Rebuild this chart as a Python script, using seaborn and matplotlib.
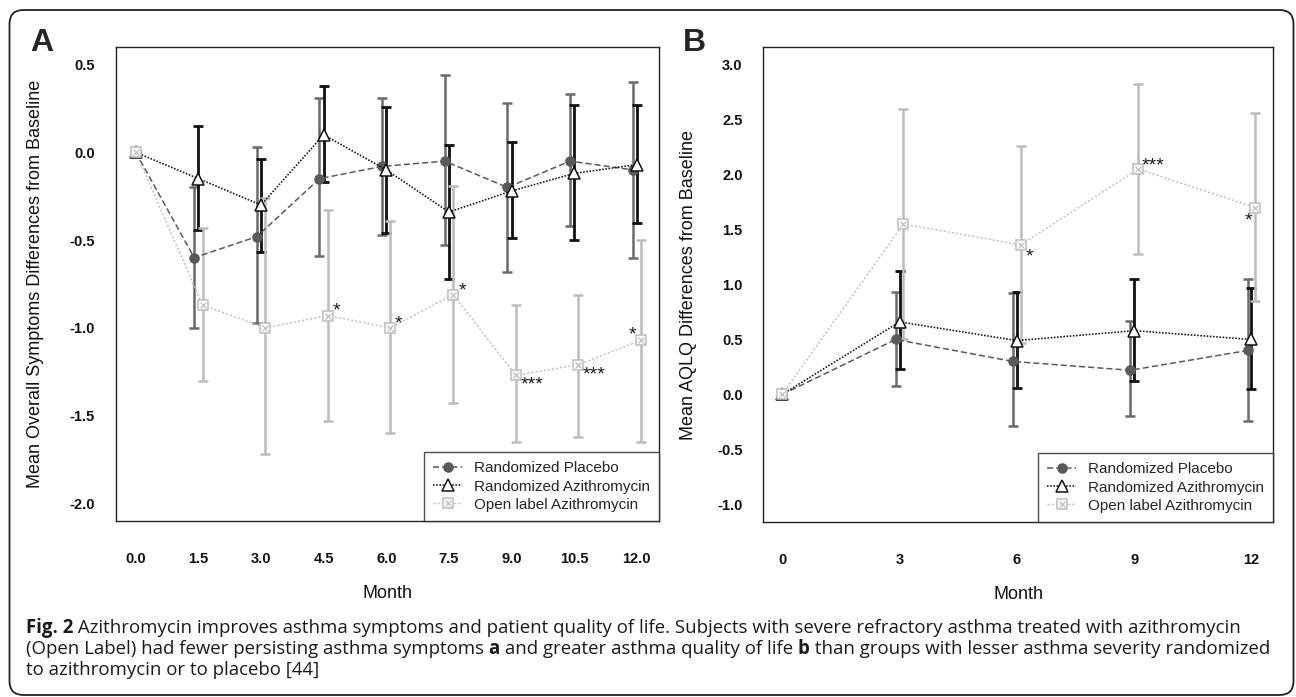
import numpy as np
import pandas as pd
import matplotlib
matplotlib.use("Agg")
import matplotlib.pyplot as plt
import seaborn as sns
from matplotlib.patches import FancyBboxPatch
from matplotlib.transforms import IdentityTransform
from matplotlib.font_manager import FontProperties

# ---------------- data ----------------
series_names = ["Randomized Placebo", "Randomized Azithromycin", "Open label Azithromycin"]

# Panel A: overall symptoms
months_a = [0, 1.5, 3.0, 4.5, 6.0, 7.5, 9.0, 10.5, 12.0]
plac_a = [0, -0.60, -0.48, -0.15, -0.08, -0.05, -0.20, -0.05, -0.10]
plac_a_hi = [0, -0.20, 0.03, 0.31, 0.31, 0.44, 0.28, 0.33, 0.40]
plac_a_lo = [0, -1.00, -0.97, -0.59, -0.47, -0.53, -0.68, -0.42, -0.60]
azi_a = [0, -0.15, -0.30, 0.10, -0.10, -0.34, -0.22, -0.12, -0.07]
azi_a_hi = [0, 0.15, -0.04, 0.38, 0.26, 0.04, 0.06, 0.27, 0.27]
azi_a_lo = [0, -0.44, -0.57, -0.17, -0.46, -0.72, -0.49, -0.50, -0.40]
open_a = [0, -0.87, -1.00, -0.93, -1.00, -0.81, -1.27, -1.21, -1.07]
open_a_hi = [0, -0.43, -0.26, -0.33, -0.39, -0.19, -0.87, -0.81, -0.50]
open_a_lo = [0, -1.30, -1.72, -1.53, -1.60, -1.43, -1.65, -1.62, -1.65]
stars_a = ["", "", "", "*", "*", "*", "***", "***", "*"]
xticks_a = [0.0, 1.5, 3.0, 4.5, 6.0, 7.5, 9.0, 10.5, 12.0]
yticks_a = [-2.0, -1.5, -1.0, -0.5, 0.0, 0.5]

# Panel B: AQLQ
months_b = [0, 3, 6, 9, 12]
plac_b = [0, 0.50, 0.30, 0.22, 0.40]
plac_b_hi = [0, 0.93, 0.92, 0.67, 1.05]
plac_b_lo = [0, 0.08, -0.29, -0.20, -0.24]
azi_b = [0, 0.66, 0.49, 0.58, 0.50]
azi_b_hi = [0, 1.12, 0.93, 1.05, 0.97]
azi_b_lo = [0, 0.23, 0.06, 0.12, 0.05]
open_b = [0, 1.55, 1.36, 2.05, 1.70]
open_b_hi = [0, 2.60, 2.26, 2.82, 2.56]
open_b_lo = [0, 0.50, 0.47, 1.28, 0.85]
stars_b = ["", "", "*", "***", "*"]
xticks_b = [0, 3, 6, 9, 12]
yticks_b = [-1.0, -0.5, 0.0, 0.5, 1.0, 1.5, 2.0, 2.5, 3.0]

caption_lines = [
    [("Fig. 2", "bold"), (" Azithromycin improves asthma symptoms and patient quality of life. Subjects with severe refractory asthma treated with azithromycin", "normal")],
    [("(Open Label) had fewer persisting asthma symptoms ", "normal"), ("a", "bold"), (" and greater asthma quality of life ", "normal"), ("b", "bold"), (" than groups with lesser asthma severity randomized", "normal")],
    [("to azithromycin or to placebo [44]", "normal")],
]

# ---------------- style ----------------
sns.set_theme(style="white")
plt.rcParams["font.family"] = ["Liberation Sans", "DejaVu Sans"]
plt.rcParams["axes.unicode_minus"] = False

W, H = 1296, 697
fig = plt.figure(figsize=(W / 100, H / 100), dpi=100)

C_PLAC = "#5a5a5a"
C_AZI = "#111111"
C_OPEN = "#bdbdbd"
DODGE = 0.1

def draw_panel(ax, months, groups, stars, star_offsets, xticks, yticks, xlim, ylim, ylabel, xfmt):
    months = np.asarray(months, dtype=float)
    styles = [
        dict(color=C_PLAC, ls=(0, (4, 2)), lw=1.1, marker="o", ms=6.5, mfc=C_PLAC, mec=C_PLAC,
             ecolor="#6a6a6a", elw=1.8, dodge=-DODGE),
        dict(color=C_AZI, ls=(0, (1, 1)), lw=1.15, marker="^", ms=8, mfc="white", mec=C_AZI,
             ecolor="#111111", elw=2.0, dodge=0.0),
        dict(color=C_OPEN, ls=(0, (1.5, 1.5)), lw=1.0, marker="s", ms=7, mfc="white", mec=C_OPEN,
             ecolor="#bcbcbc", elw=1.8, dodge=DODGE),
    ]
    order = [2, 0, 1]
    handles = {}
    for i in order:
        mean, hi, lo = groups[i]
        st = styles[i]
        x = months + st["dodge"] * (months > 0)
        mean = np.asarray(mean); hi = np.asarray(hi); lo = np.asarray(lo)
        ax.errorbar(x, mean, yerr=[mean - lo, hi - mean], fmt="none", ecolor=st["ecolor"],
                    elinewidth=st["elw"], capsize=3.8, capthick=st["elw"], zorder=2 + i)
        df = pd.DataFrame({"x": x, "y": mean})
        sns.lineplot(data=df, x="x", y="y", ax=ax, color=st["color"], linestyle=st["ls"],
                     linewidth=st["lw"], marker=st["marker"], markersize=st["ms"],
                     markerfacecolor=st["mfc"], markeredgecolor=st["mec"], markeredgewidth=1.1,
                     zorder=5 + i, label=series_names[i], legend=False)
        line = ax.lines[-1]
        if i == 2:
            ax.plot(x, mean, ls="none", marker="x", ms=4, mew=0.9, color=C_OPEN, zorder=5 + i)
            handles[i] = (line, ax.lines[-1])
        else:
            handles[i] = line
        if i == 2:
            for xi, yi, s, off in zip(x, mean, stars, star_offsets):
                if s:
                    ax.annotate(s, xy=(xi, yi), xytext=off, textcoords="offset points",
                                ha="center", va="center", fontsize=14, color="#1a1a1a", zorder=10)

    ax.set_xlim(*xlim)
    ax.set_ylim(*ylim)
    ax.set_xticks(xticks)
    ax.set_xticklabels([xfmt.format(v) for v in xticks])
    ax.set_yticks(yticks)
    ax.set_yticklabels(["{:.1f}".format(v) for v in yticks])
    ax.tick_params(axis="both", which="major", direction="out", length=8, width=1.0,
                   color="#222222", labelsize=10.5, labelcolor="#111111")
    ax.tick_params(axis="x", pad=14)
    ax.tick_params(axis="y", pad=7)
    for lab in ax.get_xticklabels() + ax.get_yticklabels():
        lab.set_fontweight("bold")
    for sp in ax.spines.values():
        sp.set_visible(True)
        sp.set_color("#222222")
        sp.set_linewidth(1.0)
    ax.set_xlabel("Month", fontsize=13, color="#111111")
    ax.set_ylabel(ylabel, fontsize=13, color="#111111")
    ax.xaxis.set_label_coords(0.5, -0.152)
    ax.xaxis.label.set_va("center")
    ax.yaxis.set_label_coords(-0.147, 0.5)
    ax.yaxis.label.set_va("center")
    ax.grid(False)

    leg = ax.legend(handles=[handles[0], handles[1], handles[2]], labels=series_names,
                    loc="lower right", borderaxespad=0, frameon=True, fancybox=False,
                    fontsize=11, handlelength=1.9, handletextpad=0.75, labelspacing=0.28,
                    borderpad=0.6, numpoints=1)
    leg.get_frame().set_edgecolor("#222222")
    leg.get_frame().set_linewidth(1.0)
    leg.get_frame().set_facecolor("white")
    leg.set_zorder(20)


# Panel A
axA = fig.add_axes([115.7 / W, 1 - 521 / H, (659 - 115.7) / W, (521 - 47) / H])
draw_panel(axA, months_a,
           [(plac_a, plac_a_hi, plac_a_lo), (azi_a, azi_a_hi, azi_a_lo), (open_a, open_a_hi, open_a_lo)],
           stars_a,
           [(0, 0), (0, 0), (0, 0), (6, 3), (6, 3), (6.5, 2.5), (12, -7), (11, -7), (-6, 4)],
           xticks_a, yticks_a, (-0.48, 12.53), (-2.1, 0.6),
           "Mean Overall Symptoms Differences from Baseline", "{:.1f}")

# Panel B
axB = fig.add_axes([763.4 / W, 1 - 522 / H, (1273 - 763.4) / W, (522 - 47) / H])
draw_panel(axB, months_b,
           [(plac_b, plac_b_hi, plac_b_lo), (azi_b, azi_b_hi, azi_b_lo), (open_b, open_b_hi, open_b_lo)],
           stars_b,
           [(0, 0), (0, 0), (6.5, -9), (11, 2), (-5, -10)],
           xticks_b, yticks_b, (-0.48, 12.55), (-1.16, 3.16),
           "Mean AQLQ Differences from Baseline", "{:d}")

# Panel letters
fig.text(42 / W, 1 - 43 / H, "A", fontsize=23, fontweight="bold", ha="center", va="center")
fig.text(694 / W, 1 - 43 / H, "B", fontsize=23, fontweight="bold", ha="center", va="center")

# Rounded frame
frame = FancyBboxPatch((9.5, H - 695), 1293.5 - 9.5, 695 - 10,
                       boxstyle="round,pad=0,rounding_size=14", transform=IdentityTransform(),
                       facecolor="none", edgecolor="#222222", linewidth=1.3, zorder=0)
fig.patches.append(frame)

# Caption with mixed weights
fig.canvas.draw()
renderer = fig.canvas.get_renderer()
cap_family = ["Open Sans", "DejaVu Sans"]

def seg_width(text, weight, size):
    prop = FontProperties(family=cap_family, weight=weight, size=size)
    w1, _, _ = renderer.get_text_width_height_descent(text + "|", prop, ismath=False)
    w2, _, _ = renderer.get_text_width_height_descent("|", prop, ismath=False)
    return w1 - w2

base = 12.0
w_line1 = sum(seg_width(t, wt, base) for t, wt in caption_lines[0])
cap_size = base * (1232 - 26) / w_line1

baselines = [633, 654, 675]
for parts, yb in zip(caption_lines, baselines):
    x = 25.5
    for text, weight in parts:
        fig.text(x / W, 1 - yb / H, text, fontsize=cap_size, fontweight=weight,
                 family=cap_family, ha="left", va="baseline", color="#1a1a1a")
        x += seg_width(text, weight, cap_size)

fig.savefig("out.png", dpi=100)
